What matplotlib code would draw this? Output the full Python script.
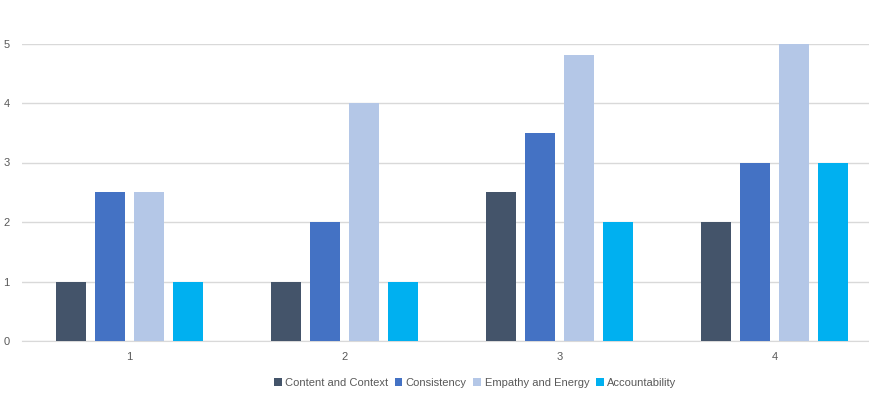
import matplotlib
matplotlib.use("Agg")
import matplotlib.pyplot as plt
import numpy as np

categories = ["1", "2", "3", "4"]
series_names = ["Content and Context", "Consistency", "Empathy and Energy", "Accountability"]
content = [1, 1, 2.5, 2]
consistency = [2.5, 2, 3.5, 3]
empathy = [2.5, 4, 4.8, 5]
accountability = [1, 1, 2, 3]
colors = ["#44546A", "#4472C4", "#B4C7E7", "#00B0F0"]

plt.rcParams['font.family'] = ['Liberation Sans', 'DejaVu Sans']

fig = plt.figure(figsize=(8.69, 3.98), dpi=100)
W, H = 869, 398
ax = fig.add_axes([22 / W, (H - 341) / H, (869 - 22) / W, (341 - 43.5) / H])

x = np.arange(len(categories))
step = 0.181
bw = 0.14
for i, (vals, c, name) in enumerate(zip([content, consistency, empathy, accountability], colors, series_names)):
    ax.bar(x + (i - 1.5) * step, vals, width=bw, color=c, label=name, zorder=3)

ax.set_xlim(-0.5, 3.44)
ax.set_ylim(0, 5)
ax.set_yticks([0, 1, 2, 3, 4, 5])
ax.set_xticks(x)
ax.set_xticklabels(categories)
ax.grid(axis='y', color='#D9D9D9', linewidth=1, zorder=0)
for s in ['top', 'right', 'left']:
    ax.spines[s].set_visible(False)
ax.spines['bottom'].set_color('#D9D9D9')
ax.tick_params(axis='both', length=0, labelsize=8, colors='#595959')
ax.tick_params(axis='y', pad=9)
ax.tick_params(axis='x', pad=8)

leg = fig.legend(loc='center', bbox_to_anchor=(475 / W, (H - 383) / H), ncol=4, frameon=False,
                 fontsize=8, handlelength=0.7, handleheight=0.7, handletextpad=0.3, columnspacing=0.6,
                 labelcolor='#595959')

fig.savefig("out.png", dpi=100)
